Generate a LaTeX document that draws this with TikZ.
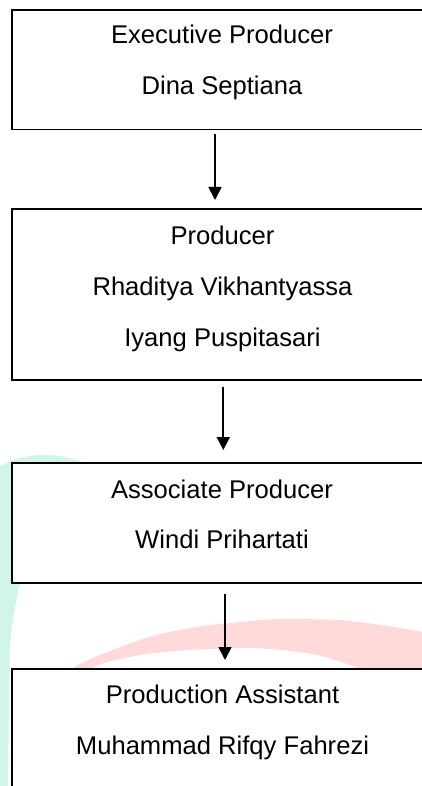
\documentclass[tikz,border=0pt]{standalone}
\usepackage{fontspec}
\setmainfont{Liberation Sans}
\usetikzlibrary{arrows.meta}
\definecolor{wmgreen}{RGB}{209,246,233}
\definecolor{wmpink}{RGB}{255,218,219}
\begin{document}
\begin{tikzpicture}[x=1pt,y=-1pt,
  box/.style={draw=black, line width=1.8pt, fill=white, outer sep=0pt, inner sep=0pt, anchor=north west, minimum width=440pt},
  lbl/.style={anchor=base, inner sep=0pt, font=\fontsize{25.6}{30}\selectfont},
  arr/.style={-{Triangle[width=13pt,length=13pt]}, line width=1.8pt}]
\clip (0,0) rectangle (422,786);
\fill[white] (0,0) rectangle (422,786);
% watermark shapes
\fill[wmgreen] plot[smooth] coordinates {(-4,470) (0,466) (20,458) (40,455) (60,456) (83,462) (95,472)}
  -- (30,570) -- plot[smooth] coordinates {(20,583) (14,613) (10,647) (9,700) (8,790)}
  -- (-4,790) -- cycle;
\fill[wmpink] plot[smooth] coordinates {(50,700) (73,668) (140,640) (190,628) (240,622) (283,619) (350,621) (422,632) (445,640)}
  -- (445,700) -- (380,700)
  -- plot[smooth] coordinates {(370,680) (360,669) (317,655) (270,649) (240,648) (190,650) (140,655) (93,668) (78,700)}
  -- cycle;
% boxes
\node[box, minimum height=119.5pt] (b1) at (12,10) {};
\node[box, minimum height=170.7pt] (b2) at (12,209.3) {};
\node[box, minimum height=120pt] (b3) at (12,462.7) {};
\node[box, minimum height=150pt] (b4) at (12,669.3) {};
% texts
\node[lbl] (t11) at (222,43.3) {Executive Producer};
\node[lbl] (t12) at (222,95) {Dina Septiana};
\node[lbl] (t21) at (222.5,244.3) {Producer};
\node[lbl] (t22) at (222.5,295.5) {Rhaditya Vikhantyassa};
\node[lbl] (t23) at (222.5,346.5) {Iyang Puspitasari};
\node[lbl] (t31) at (222,498.3) {Associate Producer};
\node[lbl] (t32) at (222,548.8) {Windi Prihartati};
\node[lbl] (t41) at (222.5,703.3) {Production Assistant};
\node[lbl] (t42) at (222.5,754.3) {Muhammad Rifqy Fahrezi};
% arrows
\coordinate (a1s) at ([xshift=203pt,yshift=-4.5pt]b1.south west);
\coordinate (a1e) at ([xshift=203pt,yshift=9.3pt]b2.north west);
\coordinate (a2s) at ([xshift=211.3pt,yshift=-6.7pt]b2.south west);
\coordinate (a2e) at ([xshift=211.3pt,yshift=12.7pt]b3.north west);
\coordinate (a3s) at ([xshift=213pt,yshift=-11.3pt]b3.south west);
\coordinate (a3e) at ([xshift=213pt,yshift=9.3pt]b4.north west);
\draw[arr] (a1s) -- (a1e);
\draw[arr] (a2s) -- (a2e);
\draw[arr] (a3s) -- (a3e);
\end{tikzpicture}
\end{document}
